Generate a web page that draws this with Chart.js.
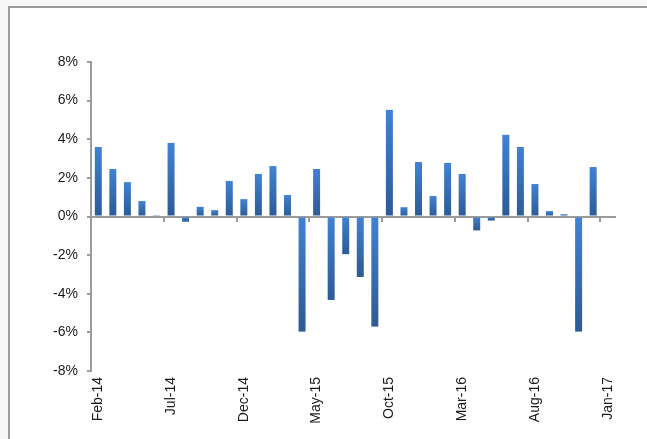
<!DOCTYPE html>
<html>
<head>
<meta charset="utf-8">
<script src="https://cdn.jsdelivr.net/npm/chart.js@4/dist/chart.umd.min.js"></script>
<style>
    body { margin: 0; background: #f7f7f7; }
    #wrap { position: relative; width: 647px; height: 439px; overflow: hidden; }
    #frame {
        position: absolute; left: 8px; top: 6px; width: 700px; height: 500px;
        background: #fff; border-left: 2px solid #9b9b9b; border-top: 2px solid #9b9b9b;
    }
    #chart { position: absolute; left: 0; top: 0; }
</style>
</head>
<body>
<div id="wrap">
    <div id="frame"></div>
    <canvas id="chart" width="647" height="439"></canvas>
</div>
<script>
// --- Daten ---

const months = [
    "Feb-14", "Mar-14", "Apr-14", "May-14", "Jun-14", "Jul-14", "Aug-14", "Sep-14", "Oct-14", "Nov-14", "Dec-14", "Jan-15",
    "Feb-15", "Mar-15", "Apr-15", "May-15", "Jun-15", "Jul-15", "Aug-15", "Sep-15", "Oct-15", "Nov-15", "Dec-15", "Jan-16",
    "Feb-16", "Mar-16", "Apr-16", "May-16", "Jun-16", "Jul-16", "Aug-16", "Sep-16", "Oct-16", "Nov-16", "Dec-16", "Jan-17"
];

const changes = [
    3.60, 2.46, 1.78, 0.80, 0.07, 3.81, -0.27, 0.50, 0.33, 1.84, 0.90, 2.20,
    2.61, 1.11, -5.96, 2.46, -4.32, -1.95, -3.13, -5.70, 5.52, 0.48, 2.82, 1.06,
    2.77, 2.20, -0.72, -0.21, 4.23, 3.60, 1.68, 0.28, 0.12, -5.96, 2.56, -0.05
];

const yTicks = [-8, -6, -4, -2, 0, 2, 4, 6, 8];

// --- Hilfsfunktionen ---

function barGradient(context) {
    const chart = context.chart;
    const yScale = chart.scales.y;
    if (!chart.chartArea || !yScale || context.type !== "data") {
        return "#3a75c0";
    }
    const y0 = yScale.getPixelForValue(0);
    const y1 = yScale.getPixelForValue(context.raw);
    const top = Math.min(y0, y1);
    const bottom = Math.max(y0, y1);
    if (bottom - top < 1) {
        return "#2f5f9e";
    }
    const gradient = chart.ctx.createLinearGradient(0, top, 0, bottom);
    gradient.addColorStop(0, "#4082d4");
    gradient.addColorStop(1, "#2c5a95");
    return gradient;
}

const axisGrey = "#9b9b9b";
const labelFont = { family: "Liberation Sans", size: 14 };

const ctx = document.getElementById("chart").getContext("2d");
const chart = new Chart(ctx, {
    type: "bar",
    data: {
        labels: months,
        datasets: [{
            data: changes,
            backgroundColor: barGradient,
            borderWidth: 0,
            barPercentage: 0.48,
            categoryPercentage: 1.0,
            xAxisID: "x",
            yAxisID: "y"
        }]
    },
    options: {
        responsive: false,
        animation: false,
        layout: {
            padding: { left: 0, right: 32, top: 62, bottom: 0 }
        },
        plugins: {
            legend: { display: false },
            tooltip: { enabled: false }
        },
        scales: {
            x: {
                type: "category",
                position: "bottom",
                offset: true,
                grid: { display: false, drawTicks: false },
                border: { display: false },
                ticks: {
                    autoSkip: false,
                    maxRotation: 90,
                    minRotation: 90,
                    padding: 6,
                    color: "#1a1a1a",
                    font: labelFont,
                    callback: function(value, index) {
                        return index % 5 === 0 ? months[index] : "";
                    }
                },
                afterFit: function(scale) {
                    scale.height = 68;
                }
            },
            x2: {
                type: "category",
                labels: months,
                position: { y: 0 },
                offset: true,
                z: 1,
                grid: {
                    offset: true,
                    drawOnChartArea: false,
                    drawTicks: true,
                    tickLength: 4,
                    lineWidth: 2,
                    color: (c) => (c.index % 5 === 0 ? axisGrey : "rgba(0,0,0,0)")
                },
                border: { display: true, color: axisGrey, width: 2 },
                ticks: { display: false }
            },
            y: {
                min: -8,
                max: 8,
                afterBuildTicks: function(scale) {
                    scale.ticks = yTicks.map(v => ({ value: v }));
                },
                grid: {
                    drawOnChartArea: false,
                    drawTicks: true,
                    tickLength: 4,
                    tickColor: axisGrey,
                    lineWidth: 2
                },
                border: { display: true, color: axisGrey, width: 2 },
                ticks: {
                    padding: 9,
                    color: "#1a1a1a",
                    font: labelFont,
                    callback: (value) => value + "%"
                },
                afterFit: function(scale) {
                    scale.width = 91;
                }
            }
        }
    }
});
</script>
</body>
</html>
